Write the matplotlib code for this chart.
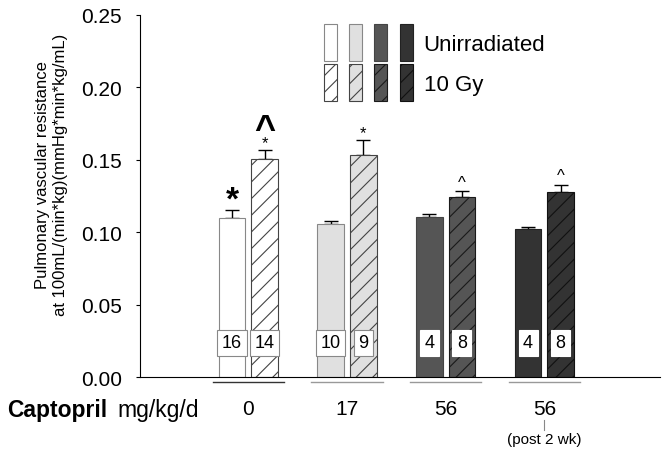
import numpy as np
import matplotlib
matplotlib.use("Agg")
import matplotlib.pyplot as plt
from matplotlib.legend_handler import HandlerTuple
from matplotlib.patches import Patch

# data
groups = ["0", "17", "56", "56"]
unirr = [0.1096, 0.1060, 0.1103, 0.1020]
unirr_err = [0.0057, 0.0015, 0.0020, 0.0014]
irr = [0.1505, 0.1530, 0.1245, 0.1275]
irr_err = [0.0065, 0.0107, 0.0040, 0.0053]
n_unirr = ["16", "10", "4", "4"]
n_irr = ["14", "9", "8", "8"]
colors = ["#ffffff", "#e0e0e0", "#555555", "#333333"]
edge = ["#888888", "#888888", "#444444", "#222222"]
hatch_edge = ["#444444", "#444444", "#1a1a1a", "#111111"]
line_col = ["#333333", "#999999", "#999999", "#999999"]

plt.rcParams["font.family"] = ["Liberation Sans", "DejaVu Sans"]
plt.rcParams["hatch.linewidth"] = 0.8

fig = plt.figure(figsize=(6.68, 4.56), dpi=100)
ax = fig.add_axes([0.2096, 0.171, 0.778, 0.794])

x = np.arange(len(groups))
w = 0.27
off = 0.165

for i in range(len(groups)):
    ax.bar(x[i] - off, unirr[i], w, color=colors[i], edgecolor=edge[i], lw=0.8, zorder=2)
    ax.bar(x[i] + off, irr[i], w, color=colors[i], edgecolor=hatch_edge[i], lw=0.8,
           hatch="//", zorder=2)

ax.errorbar(x - off, unirr, yerr=[np.zeros(4), unirr_err], fmt="none", ecolor="black",
            elinewidth=1, capsize=5, capthick=1, zorder=1)
ax.errorbar(x + off, irr, yerr=[np.zeros(4), irr_err], fmt="none", ecolor="black",
            elinewidth=1, capsize=5, capthick=1, zorder=1)

# n numbers
for i in range(len(groups)):
    bec = "#888888" if i < 2 else "white"
    box = dict(boxstyle="square,pad=0.25", fc="white", ec=bec, lw=0.8)
    ax.text(x[i] - off, 0.0235, n_unirr[i], ha="center", va="center", fontsize=13, bbox=box, zorder=3)
    ax.text(x[i] + off, 0.0235, n_irr[i], ha="center", va="center", fontsize=13, bbox=box, zorder=3)

# significance marks
ax.annotate("*", (x[0] - off, unirr[0] + unirr_err[0]), xytext=(0, -4), textcoords="offset points",
            ha="center", va="bottom", fontsize=24, fontweight="bold")
ax.annotate("*", (x[0] + off, irr[0] + irr_err[0]), xytext=(0, 0), textcoords="offset points",
            ha="center", va="bottom", fontsize=12)
ax.annotate("^", (x[0] + off, irr[0] + irr_err[0]), xytext=(0, 2), textcoords="offset points",
            ha="center", va="bottom", fontsize=26, fontweight="bold")
ax.annotate("*", (x[1] + off, irr[1] + irr_err[1]), xytext=(0, 0), textcoords="offset points",
            ha="center", va="bottom", fontsize=12)
for i in [2, 3]:
    ax.annotate("^", (x[i] + off, irr[i] + irr_err[i]), xytext=(0, 1), textcoords="offset points",
                ha="center", va="bottom", fontsize=12)

ax.set_xlim(-1.098, 4.17)
ax.set_ylim(0, 0.25)
ax.set_yticks(np.arange(0, 0.26, 0.05))
ax.set_yticklabels([f"{v:.2f}" for v in np.arange(0, 0.26, 0.05)])
ax.set_xticks([])
ax.tick_params(axis="y", labelsize=15, length=3, pad=10, direction="out")
for s in ["top", "right"]:
    ax.spines[s].set_visible(False)
ax.set_ylabel("Pulmonary vascular resistance\nat 100mL/(min*kg)(mmHg*min*kg/mL)", fontsize=12,
              labelpad=9, linespacing=1.3, y=0.56)

# group underlines and labels
tr = ax.get_xaxis_transform()
for i in range(len(groups)):
    ax.plot([x[i] - 0.36, x[i] + 0.36], [-0.014, -0.014], color=line_col[i], lw=1,
            transform=tr, clip_on=False)
    ax.text(x[i], -0.088, groups[i], transform=tr, ha="center", va="center", fontsize=15)
ax.plot([x[3], x[3]], [-0.118, -0.145], color="#888888", lw=0.8, transform=tr, clip_on=False)
ax.text(x[3], -0.17, "(post 2 wk)", transform=tr, ha="center", va="center", fontsize=11)
fig.text(0.011, 0.10, "Captopril", fontsize=16.5, fontweight="bold", va="center", ha="left")
fig.text(0.176, 0.10, "mg/kg/d", fontsize=16.5, va="center", ha="left")

# legend
h1 = tuple(Patch(fc=c, ec=e, lw=0.8) for c, e in zip(colors, edge))
h2 = tuple(Patch(fc=c, ec=e, lw=0.8, hatch="//") for c, e in zip(colors, hatch_edge))
ax.legend([h1, h2], ["Unirradiated", "10 Gy"], handler_map={tuple: HandlerTuple(ndivide=None, pad=0.55)},
          loc="upper left", bbox_to_anchor=(0.315, 1.03), frameon=False, fontsize=16,
          handlelength=4.0, handleheight=2.2, handletextpad=0.5, labelspacing=0.12)

fig.savefig("out.png", dpi=100)
